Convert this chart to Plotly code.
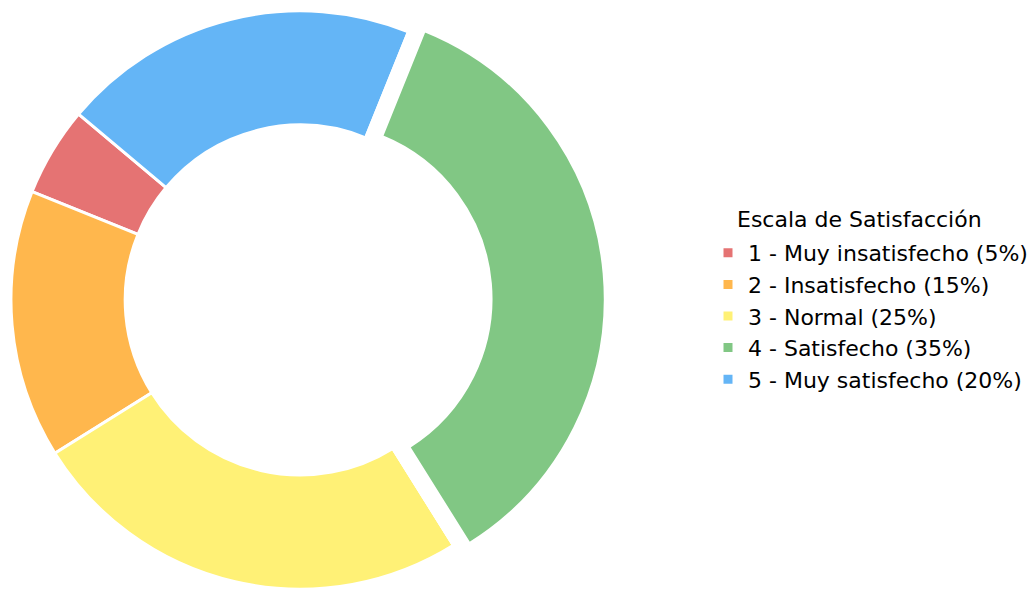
import plotly.graph_objects as go

# ---- data ----
labels = [
    "1 - Muy insatisfecho (5%)",
    "2 - Insatisfecho (15%)",
    "3 - Normal (25%)",
    "4 - Satisfecho (35%)",
    "5 - Muy satisfecho (20%)",
]
values = [5, 15, 25, 35, 20]
colors = ["#E57373", "#FFB74D", "#FFF176", "#81C784", "#64B5F6"]
exploded = [False, False, False, True, False]
legend_title = "Escala de Satisfacción"

W, H = 1033, 590
cx, cy, R = 301.0, 300.0, 290.0          # pie centre / radius in pixels
pull_dx, pull_dy = 16.0, -1.4             # offset of the exploded slice (pixels)
rotation = -68
HOLE = 0.605
EDGE = 3

def dom(cx_, cy_):
    y0 = max(0.0, (H - (cy_ + R)) / H)
    y1 = min(1.0, (H - (cy_ - R)) / H)
    return dict(x=[(cx_ - R) / W, (cx_ + R) / W], y=[y0, y1])

clear = "rgba(0,0,0,0)"

top_colors = [c if e else clear for c, e in zip(colors, exploded)]
top_lines = ["white" if e else clear for e in exploded]
top_widths = [EDGE if e else 0 for e in exploded]

fig = go.Figure()
# full donut (carries the legend)
fig.add_trace(go.Pie(
    labels=labels, values=values, sort=False, direction="counterclockwise",
    rotation=rotation, hole=HOLE, textinfo="none", hoverinfo="skip",
    marker=dict(colors=colors, line=dict(color="white", width=EDGE)),
    domain=dom(cx, cy), showlegend=True,
))
# white cover for the original position of the exploded slice
fig.add_trace(go.Pie(
    labels=[l + "  " for l in labels], values=values, sort=False,
    direction="counterclockwise", rotation=rotation, hole=HOLE,
    textinfo="none", hoverinfo="skip",
    marker=dict(colors=["white" if e else clear for e in exploded],
                line=dict(color=top_lines, width=top_widths)),
    domain=dom(cx, cy), showlegend=False,
))
# exploded slice, shifted outward
fig.add_trace(go.Pie(
    labels=[l + " " for l in labels], values=values, sort=False,
    direction="counterclockwise", rotation=rotation, hole=HOLE,
    textinfo="none", hoverinfo="skip",
    marker=dict(colors=top_colors, line=dict(color=top_lines, width=top_widths)),
    domain=dom(cx + pull_dx, cy + pull_dy), showlegend=False,
))

fig.add_annotation(
    text=legend_title, xref="paper", yref="paper",
    x=737 / W, xanchor="left", y=1 - 219 / H, yanchor="middle",
    showarrow=False, font=dict(family="DejaVu Sans", size=22, color="#000000"),
)

fig.update_layout(
    width=W, height=H,
    margin=dict(l=0, r=0, t=0, b=0),
    paper_bgcolor="white", plot_bgcolor="white",
    font=dict(family="DejaVu Sans", size=22, color="#000000"),
    legend=dict(
        x=0.6874, xanchor="left", y=1 - 316 / H, yanchor="middle",
        font=dict(size=22), bgcolor="rgba(0,0,0,0)",
    ),
)

fig.write_html(
    "out.html",
    config={"displayModeBar": False},
    post_script="document.body.style.margin='0';document.body.style.overflow='hidden';",
)
